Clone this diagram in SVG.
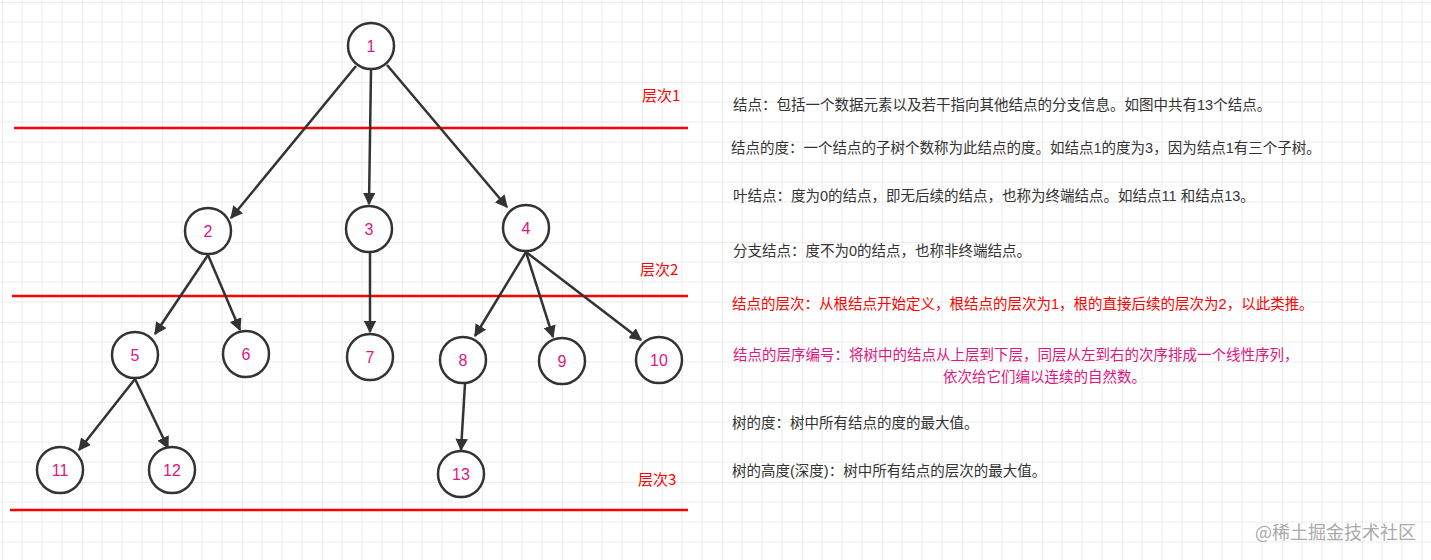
<svg xmlns="http://www.w3.org/2000/svg" width="1431" height="560" viewBox="0 0 1431 560">
<defs>
<pattern id="g" x="2" y="2" width="80" height="80" patternUnits="userSpaceOnUse">
<path d="M0 20H80M0 40H80M0 60H80M20 0V80M40 0V80M60 0V80" stroke="#ececec" stroke-width="1" fill="none"/>
<path d="M0 0H80M0 0V80" stroke="#dcdcdc" stroke-width="1" fill="none"/>
</pattern>
<marker id="a" viewBox="0 0 10 10" refX="9" refY="5" markerWidth="5" markerHeight="5" orient="auto"><path d="M0 0L10 5L0 10z" fill="#333"/></marker>
<style>
.n circle{fill:#fff;stroke:#333;stroke-width:2.5}
.n text{fill:#e0157f;font:16px "Liberation Sans",sans-serif;text-anchor:middle}
.e line{stroke:#333;stroke-width:2.5;marker-end:url(#a)}
.r{stroke:#f00;stroke-width:2.5}
.l{fill:#f00;font:15px "Noto Sans CJK SC",sans-serif}
.t{fill:#333;font:14.5px "Liberation Sans","Noto Sans CJK SC",sans-serif}
</style>
</defs>
<rect width="1431" height="560" fill="#fff"/>
<rect width="1431" height="560" fill="url(#g)"/>
<g id="levels">
<line class="r" x1="14" y1="128" x2="688" y2="128"/>
<line class="r" x1="12" y1="296" x2="688" y2="296"/>
<line class="r" x1="10" y1="510" x2="688" y2="510"/>
<text class="l" x="642" y="101">层次1</text>
<text class="l" x="640" y="275">层次2</text>
<text class="l" x="638" y="485">层次3</text>
</g>
<g id="connectors" class="e">
<line x1="356" y1="66" x2="231" y2="218"/>
<line x1="371" y1="70" x2="369" y2="204"/>
<line x1="387" y1="65" x2="507" y2="207"/>
<line x1="208" y1="255" x2="155" y2="334"/>
<line x1="208" y1="255" x2="240" y2="330"/>
<line x1="370" y1="253" x2="370" y2="332"/>
<line x1="526" y1="252" x2="475" y2="336"/>
<line x1="526" y1="252" x2="553" y2="337"/>
<line x1="526" y1="252" x2="641" y2="340"/>
<line x1="135" y1="379" x2="79" y2="450"/>
<line x1="135" y1="379" x2="168" y2="448"/>
<line x1="465" y1="384" x2="461" y2="450"/>
</g>
<g id="n1" class="n"><circle cx="371" cy="46" r="23"/><text x="371" y="52">1</text></g>
<g id="n2" class="n"><circle cx="208" cy="231" r="23"/><text x="208" y="237">2</text></g>
<g id="n3" class="n"><circle cx="369" cy="229" r="23"/><text x="369" y="235">3</text></g>
<g id="n4" class="n"><circle cx="526" cy="228" r="23"/><text x="526" y="234">4</text></g>
<g id="n5" class="n"><circle cx="135" cy="355" r="23"/><text x="135" y="361">5</text></g>
<g id="n6" class="n"><circle cx="246" cy="354" r="23"/><text x="246" y="360">6</text></g>
<g id="n7" class="n"><circle cx="370" cy="357" r="23"/><text x="370" y="363">7</text></g>
<g id="n8" class="n"><circle cx="463" cy="360" r="23"/><text x="463" y="366">8</text></g>
<g id="n9" class="n"><circle cx="562" cy="361" r="23"/><text x="562" y="367">9</text></g>
<g id="n10" class="n"><circle cx="659" cy="360" r="23"/><text x="659" y="366">10</text></g>
<g id="n11" class="n"><circle cx="60" cy="470" r="23"/><text x="60" y="476">11</text></g>
<g id="n12" class="n"><circle cx="172" cy="470" r="23"/><text x="172" y="476">12</text></g>
<g id="n13" class="n"><circle cx="461" cy="474" r="23"/><text x="461" y="480">13</text></g>
<g id="notes">
<text class="t" x="733" y="110">结点：包括一个数据元素以及若干指向其他结点的分支信息。如图中共有13个结点。</text>
<text class="t" x="731" y="153">结点的度：一个结点的子树个数称为此结点的度。如结点1的度为3，因为结点1有三个子树。</text>
<text class="t" x="733" y="201">叶结点：度为0的结点，即无后续的结点，也称为终端结点。如结点11 和结点13。</text>
<text class="t" x="733" y="256">分支结点：度不为0的结点，也称非终端结点。</text>
<text class="t" x="732" y="309" fill="#f00" style="fill:#f00">结点的层次：从根结点开始定义，根结点的层次为1，根的直接后续的层次为2，以此类推。</text>
<text class="t" x="733" y="360" style="fill:#e0157f">结点的层序编号：将树中的结点从上层到下层，同层从左到右的次序排成一个线性序列，</text>
<text class="t" x="943" y="382" style="fill:#e0157f">依次给它们编以连续的自然数。</text>
<text class="t" x="732" y="428">树的度：树中所有结点的度的最大值。</text>
<text class="t" x="732" y="476">树的高度(深度)：树中所有结点的层次的最大值。</text>
<text x="1255" y="539" style="fill:#aaa;font:18px 'Noto Sans CJK SC',sans-serif">@稀土掘金技术社区</text>
</g>
</svg>
